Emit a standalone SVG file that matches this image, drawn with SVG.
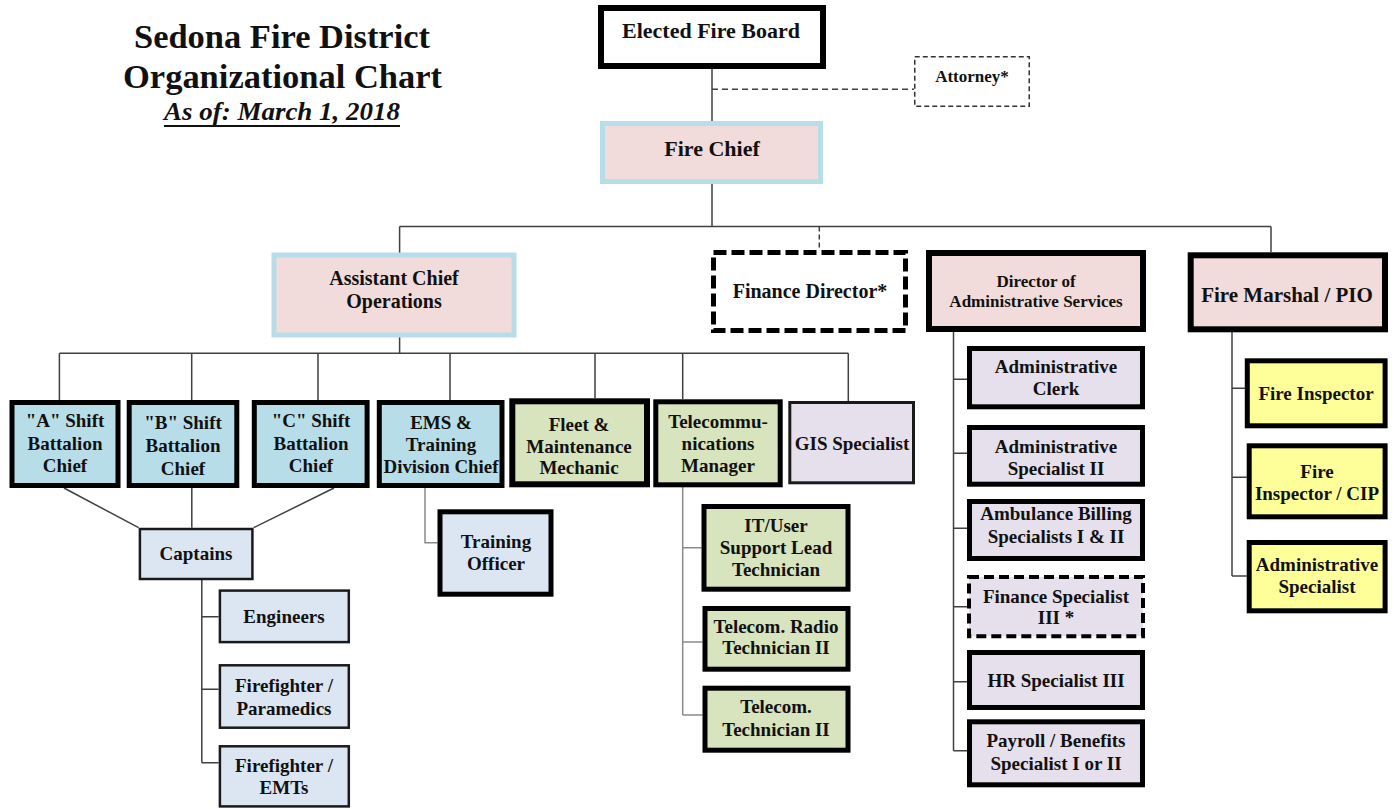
<svg xmlns="http://www.w3.org/2000/svg" width="1394" height="809" viewBox="0 0 1394 809">
<style>
text{font-family:"Liberation Serif","Times New Roman",serif;font-weight:bold;fill:#111;text-anchor:middle}
.t{font-size:19px}
.line{stroke:#404040;stroke-width:1.5;fill:none}
.lg{stroke:#8a8a8a;stroke-width:1.5;fill:none}
.dash{stroke:#404040;stroke-width:1.5;fill:none;stroke-dasharray:6 4}
.k5{stroke:#000;stroke-width:5}
.k6{stroke:#000;stroke-width:6}
.k3{stroke:#1a1a1a;stroke-width:2.5}
.pink{fill:#f2dcdb}
.lblue{fill:#b7dee8}
.pale{fill:#dce6f2}
.green{fill:#d7e4bd}
.lav{fill:#e6e0ec}
.yel{fill:#ffff99}
</style>
<rect width="1394" height="809" fill="#fff"/>
<g id="title">
<text x="282" y="48" style="font-size:34px" textLength="296" lengthAdjust="spacingAndGlyphs">Sedona Fire District</text>
<text x="282.5" y="88" style="font-size:34px" textLength="319" lengthAdjust="spacingAndGlyphs">Organizational Chart</text>
<text x="282" y="120" style="font-size:26px;font-style:italic" textLength="236" lengthAdjust="spacingAndGlyphs">As of: March 1, 2018</text>
<line x1="164" y1="126" x2="400" y2="126" stroke="#111" stroke-width="2"/>
</g>
<g id="connectors">
<path class="line" d="M712 69V122M712 184V226.5M399.6 226.5H1271M399.6 226.5V253M1271 226.5V252"/>
<path class="dash" d="M712 89.3H914"/>
<path class="line" d="M819.3 226.5V250" stroke-dasharray="5 3"/>
<path class="line" d="M399.6 337V353.3M59.4 353.3H848.3M59.4 353.3V400M191.7 353.3V400M318 353.3V400M450 353.3V400M595 353.3V398M682.7 353.3V399M848.3 353.3V401"/>
<path class="line" d="M64 488L138.6 527.7M191.8 488V527.7M334 488L253.6 527.7"/>
<path class="line" d="M201.8 580V762.7M201.8 616.7H218.6M201.8 689.3H218.6M201.8 762.7H218.6"/>
<path class="lg" d="M425 488V542.7H437.5"/>
<path class="lg" d="M682.7 487V715M682.7 547.7H701.5M682.7 642H702.5M682.7 715H702.5"/>
<path class="line" d="M953.5 332V750.7M953.5 379.3H967M953.5 453.3H967M953.5 528.3H967M953.5 606.7H967M953.5 681.7H967M953.5 750.7H967"/>
<path class="line" d="M1232 332V576M1232 388.3H1245M1232 477.3H1246.7M1232 576H1246.7"/>
</g>
<g id="board"><rect x="601" y="8" width="222" height="58" fill="#fff" class="k6"/><text x="711" y="38" style="font-size:22px">Elected Fire Board</text></g>
<g id="attorney"><rect x="914.75" y="56.75" width="114.5" height="49.5" fill="#fff" stroke="#333" stroke-width="1.5" stroke-dasharray="5 3"/><text x="972" y="82" style="font-size:17px">Attorney*</text></g>
<g id="fire-chief"><rect x="602.5" y="123.5" width="218" height="58" class="pink" stroke="#b7dee8" stroke-width="5"/><text x="712" y="156" style="font-size:22px">Fire Chief</text></g>
<g id="asst-chief"><rect x="274" y="255" width="240" height="80" class="pink" stroke="#b7dee8" stroke-width="5"/><text x="394" y="285" style="font-size:20px">Assistant Chief</text><text x="394" y="308" style="font-size:20px">Operations</text></g>
<g id="finance-director"><rect x="713.5" y="252.5" width="192" height="78" fill="#fff" stroke="#000" stroke-width="5" stroke-dasharray="13 5"/><text x="810" y="298" style="font-size:20px">Finance Director*</text></g>
<g id="director-admin"><rect x="929" y="253" width="214" height="76" class="pink k6"/><text x="1036" y="287" style="font-size:17px">Director of</text><text x="1036" y="307" style="font-size:17px">Administrative Services</text></g>
<g id="fire-marshal"><rect x="1190.7" y="255.3" width="194.3" height="74" class="pink k6"/><text x="1287" y="302" style="font-size:21px">Fire Marshal / PIO</text></g>
<g id="a-shift"><rect x="12" y="402.5" width="106" height="83" class="lblue k5"/><text class="t" x="65" y="427">"A" Shift</text><text class="t" x="65" y="449.5">Battalion</text><text class="t" x="65" y="472">Chief</text></g>
<g id="b-shift"><rect x="129.2" y="402.5" width="107.6" height="83" class="lblue k5"/><text class="t" x="183" y="428.5">"B" Shift</text><text class="t" x="183" y="452">Battalion</text><text class="t" x="183" y="474.5">Chief</text></g>
<g id="c-shift"><rect x="254.3" y="402.5" width="112.8" height="83" class="lblue k5"/><text class="t" x="311" y="427">"C" Shift</text><text class="t" x="311" y="449.5">Battalion</text><text class="t" x="311" y="472">Chief</text></g>
<g id="ems"><rect x="379.3" y="402.5" width="122.7" height="83" class="lblue k5"/><text class="t" x="441" y="429">EMS &amp;</text><text class="t" x="441" y="451">Training</text><text class="t" x="441" y="473" textLength="115" lengthAdjust="spacingAndGlyphs">Division Chief</text></g>
<g id="fleet"><rect x="512.3" y="401.3" width="134.7" height="83" class="green k6"/><text class="t" x="579" y="431">Fleet &amp;</text><text class="t" x="579" y="453">Maintenance</text><text class="t" x="579" y="474">Mechanic</text></g>
<g id="telecom-mgr"><rect x="655.8" y="401.8" width="124.4" height="83" class="green k5"/><text class="t" x="718" y="428">Telecommu-</text><text class="t" x="718" y="450">nications</text><text class="t" x="718" y="472">Manager</text></g>
<g id="gis"><rect x="789.8" y="402.5" width="123.7" height="80.3" class="lav" stroke="#1a1a1a" stroke-width="3"/><text class="t" x="852" y="450">GIS Specialist</text></g>
<g id="captains"><rect x="139.9" y="529" width="112.5" height="50" class="pale k3"/><text class="t" x="196" y="560">Captains</text></g>
<g id="engineers"><rect x="219.9" y="590.6" width="128.9" height="51.5" class="pale k3"/><text class="t" x="284" y="623.3">Engineers</text></g>
<g id="ff-paramedics"><rect x="219.9" y="665.3" width="128.9" height="62.4" class="pale k3"/><text class="t" x="284" y="692.3">Firefighter /</text><text class="t" x="284" y="715">Paramedics</text></g>
<g id="ff-emts"><rect x="219.9" y="746.3" width="128.9" height="60.1" class="pale k3"/><text class="t" x="284" y="772.3">Firefighter /</text><text class="t" x="284" y="794.3">EMTs</text></g>
<g id="training-officer"><rect x="440" y="511.8" width="111" height="82.4" class="pale k5"/><text class="t" x="496" y="548">Training</text><text class="t" x="496" y="570">Officer</text></g>
<g id="it-user"><rect x="704" y="506.5" width="144" height="82.7" class="green k5"/><text class="t" x="776" y="531.7">IT/User</text><text class="t" x="776" y="554">Support Lead</text><text class="t" x="776" y="576">Technician</text></g>
<g id="radio-tech"><rect x="705" y="608.5" width="143" height="60.7" class="green k5"/><text class="t" x="776" y="632.7">Telecom. Radio</text><text class="t" x="776" y="654">Technician II</text></g>
<g id="telecom-tech"><rect x="705" y="688.2" width="143" height="62" class="green k5"/><text class="t" x="776" y="713.3">Telecom.</text><text class="t" x="776" y="736">Technician II</text></g>
<g id="admin-clerk"><rect x="969.5" y="348.5" width="173" height="58.3" class="lav k5"/><text class="t" x="1056" y="372.7">Administrative</text><text class="t" x="1056" y="395">Clerk</text></g>
<g id="admin-spec-2"><rect x="969.5" y="427.5" width="173" height="56.7" class="lav k5"/><text class="t" x="1056" y="453.3">Administrative</text><text class="t" x="1056" y="475">Specialist II</text></g>
<g id="ambulance"><rect x="969.5" y="501.5" width="173" height="57" class="lav k5"/><text class="t" x="1056" y="520">Ambulance Billing</text><text class="t" x="1056" y="543.3">Specialists I &amp; II</text></g>
<g id="finance-spec"><rect x="969" y="577" width="174" height="59.3" class="lav" stroke="#000" stroke-width="4" stroke-dasharray="10 5"/><text class="t" x="1056" y="603.3">Finance Specialist</text><text class="t" x="1056" y="624">III *</text></g>
<g id="hr-spec"><rect x="969.5" y="652.5" width="173" height="55" class="lav k5"/><text class="t" x="1056" y="686.7">HR Specialist III</text></g>
<g id="payroll"><rect x="969.5" y="721.8" width="173" height="63" class="lav k5"/><text class="t" x="1056" y="746.7">Payroll / Benefits</text><text class="t" x="1056" y="770">Specialist I or II</text></g>
<g id="fire-inspector"><rect x="1247.3" y="360.8" width="137.8" height="65" class="yel k5"/><text class="t" x="1316" y="400">Fire Inspector</text></g>
<g id="fire-inspector-cip"><rect x="1249.2" y="445.8" width="135.9" height="71" class="yel k5"/><text class="t" x="1317" y="478">Fire</text><text class="t" x="1317" y="500">Inspector / CIP</text></g>
<g id="admin-spec"><rect x="1249.2" y="542.5" width="135.9" height="68.3" class="yel k5"/><text class="t" x="1317" y="570.7">Administrative</text><text class="t" x="1317" y="593.3">Specialist</text></g>
</svg>
